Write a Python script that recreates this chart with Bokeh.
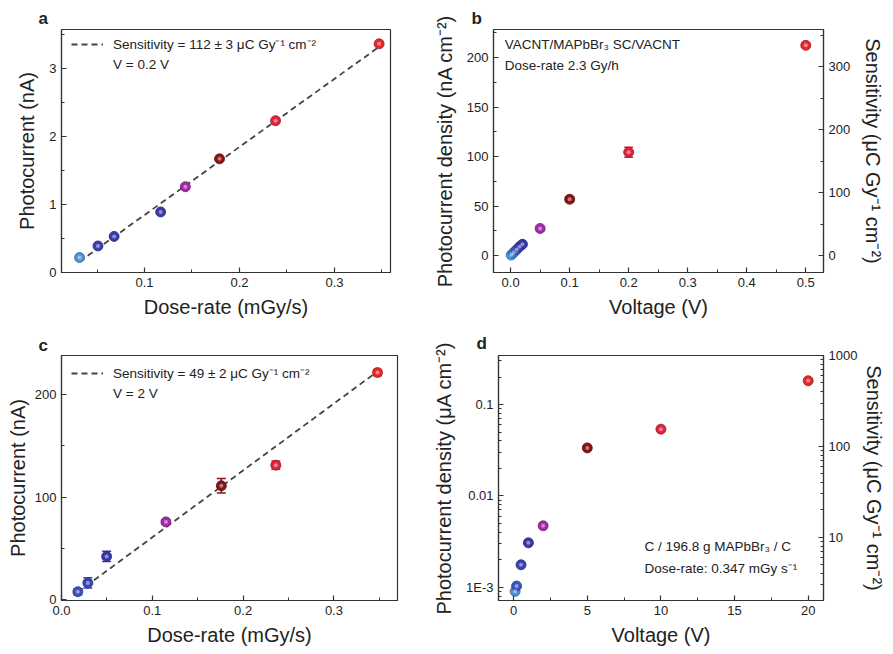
from bokeh.plotting import figure
from bokeh.layouts import column, row
from bokeh.models import (Range1d, LinearAxis, LogAxis, LogScale, FixedTicker, Whisker, TeeHead,
                          ColumnDataSource, Label, Legend, LegendItem, NumeralTickFormatter, Title)
from bokeh.embed import file_html
from bokeh.resources import INLINE

FONT = "Liberation Sans"

# ---------------- data ----------------
# panel a
a_dose = [0.0316, 0.051, 0.068, 0.117, 0.143, 0.179, 0.238, 0.347]
a_curr = [0.22, 0.39, 0.53, 0.89, 1.26, 1.67, 2.23, 3.36]
a_colors = ["#4a94dc", "#3b3fb0", "#3a3aa8", "#3b3aa5", "#a22aa8", "#8a1414", "#e0223c", "#e8262a"]
a_fit_slope, a_fit_icpt = 10.0, -0.155
a_fit_x = [0.0316, 0.347]

# panel b
b_volt = [0.001, 0.005, 0.01, 0.015, 0.02, 0.05, 0.1, 0.2, 0.5]
b_dens = [0.6, 3.0, 6.0, 9.0, 11.5, 27.5, 57.0, 104.5, 212.5]
b_err = [0.8, 0.8, 0.8, 1.0, 1.0, 2.0, 2.5, 5.0, 2.0]
b_colors = ["#4a94dc", "#4078d4", "#3a5ac4", "#3a45b8", "#3535a8", "#a22aa8", "#8a1414", "#e0223c", "#e8262a"]

# panel c
c_dose = [0.018, 0.029, 0.0497, 0.115, 0.176, 0.236, 0.348]
c_curr = [8.0, 16.6, 42.3, 75.9, 111.0, 131.0, 221.0]
c_err = [3.0, 5.0, 5.0, 2.0, 7.0, 4.0, 3.0]
c_colors = ["#3b50c0", "#3b45b5", "#3838a8", "#a22aa8", "#8a1414", "#e0223c", "#e8262a"]
c_fit_slope, c_fit_icpt = 650.0, -4.1
c_fit_x = [0.018, 0.348]

# panel d
d_volt = [0.1, 0.2, 0.5, 1, 2, 5, 10, 20]
d_dens = [9.0e-4, 1.03e-3, 1.76e-3, 3.06e-3, 4.7e-3, 0.0335, 0.0537, 0.182]
d_colors = ["#4a94dc", "#3b55c0", "#3b3fb0", "#3838a8", "#a22aa8", "#8a1414", "#e0223c", "#e8262a"]

a_xticks = [0.1, 0.2, 0.3]
a_yticks = [0, 1, 2, 3]
b_xticks = [0.0, 0.1, 0.2, 0.3, 0.4, 0.5]
b_yticks = [0, 50, 100, 150, 200]
b_rticks = [0, 100, 200, 300]
c_xticks = [0.0, 0.1, 0.2, 0.3]
c_yticks = [0, 100, 200]
d_xticks = [0, 5, 10, 15, 20]
d_yticks = [0.001, 0.01, 0.1]
d_ylabels = ["1E-3", "0.01", "0.1"]
d_rticks = [10, 100, 1000]
d_rlabels = ["10", "100", "1000"]


def style_axis(ax, label_standoff=6):
    ax.major_tick_in = 5
    ax.major_tick_out = 0
    ax.minor_tick_in = 3
    ax.minor_tick_out = 0
    ax.axis_line_color = "#333333"
    ax.axis_line_width = 1.2
    ax.major_tick_line_color = "#333333"
    ax.minor_tick_line_color = "#333333"
    ax.major_tick_line_width = 1.2
    ax.major_label_text_font = FONT
    ax.major_label_text_font_size = "13px"
    ax.major_label_text_color = "#222222"
    ax.major_label_standoff = 5
    ax.axis_label_text_font = FONT
    ax.axis_label_text_font_size = "20px"
    ax.axis_label_text_font_style = "normal"
    ax.axis_label_text_color = "#222222"
    ax.axis_label_standoff = label_standoff


def base_fig(w, h, bl, br, bt, bb, xr, yr, y_type="linear"):
    p = figure(width=w, height=h, x_range=xr, y_range=yr, y_axis_type=y_type,
               output_backend="svg", toolbar_location=None,
               min_border_left=bl, min_border_right=br, min_border_top=bt, min_border_bottom=bb)
    p.xgrid.visible = False
    p.ygrid.visible = False
    p.outline_line_color = "#333333"
    p.outline_line_width = 1.2
    p.background_fill_color = "white"
    p.border_fill_color = "white"
    return p


def darker(hexc, f=0.7):
    r, g, b = int(hexc[1:3], 16), int(hexc[3:5], 16), int(hexc[5:7], 16)
    return "#%02x%02x%02x" % (int(r * f), int(g * f), int(b * f))


def spheres(p, xs, ys, colors, size=10):
    src = ColumnDataSource(dict(x=xs, y=ys, c=colors, d=[darker(c) for c in colors]))
    p.scatter("x", "y", source=src, size=size, fill_color="c", line_color="d", line_width=0.8)
    p.scatter("x", "y", source=src, size=size * 0.4, fill_color="white", fill_alpha=0.45, line_color=None)


def errbars(p, xs, ys, errs, colors):
    src = ColumnDataSource(dict(x=xs, lo=[y - e for y, e in zip(ys, errs)],
                                hi=[y + e for y, e in zip(ys, errs)], c=colors))
    w = Whisker(base="x", lower="lo", upper="hi", source=src, dimension="height",
                line_color="c", line_width=1.5,
                lower_head=TeeHead(size=9, line_color="c", line_width=1.5),
                upper_head=TeeHead(size=9, line_color="c", line_width=1.5))
    p.add_layout(w)


def letter(p, txt, offset, standoff):
    p.add_layout(Title(text=txt, align="left", offset=offset, standoff=standoff,
                       text_font=FONT, text_font_size="17px", text_font_style="bold",
                       text_color="#222222"), "above")


def note(p, txt, x, y):
    p.add_layout(Label(x=x, y=y, text=txt, text_font=FONT, text_font_size="13.5px",
                       text_align="left", text_baseline="middle", text_color="#222222"))


def fit_legend(p, fit_r, txt1, txt2, loc):
    dummy = p.line([], [], line_alpha=0)
    leg = Legend(items=[LegendItem(label=txt1, renderers=[fit_r]),
                        LegendItem(label=txt2, renderers=[dummy])],
                 location=loc, border_line_color=None, background_fill_alpha=0,
                 margin=0, padding=5, spacing=4, glyph_width=32, glyph_height=14,
                 label_height=14, label_standoff=10, label_text_font=FONT,
                 label_text_font_size="13.5px", label_text_color="#222222")
    p.add_layout(leg)


# ---------------- panel a ----------------
pa = base_fig(430, 320, 61, 40, 29, 47, Range1d(0.0126, 0.359), Range1d(0, 3.57))
style_axis(pa.xaxis[0], 6)
style_axis(pa.yaxis[0], 8)
pa.xaxis.ticker = FixedTicker(ticks=a_xticks, minor_ticks=[0.05, 0.15, 0.25, 0.35])
pa.yaxis.ticker = FixedTicker(ticks=a_yticks, minor_ticks=[0.5, 1.5, 2.5, 3.5])
pa.xaxis.formatter = NumeralTickFormatter(format="0.0")
pa.xaxis.axis_label = "Dose-rate (mGy/s)"
pa.yaxis.axis_label = "Photocurrent (nA)"
fa = pa.line(a_fit_x, [a_fit_slope * x + a_fit_icpt for x in a_fit_x],
             line_dash="6 4", line_color="#444444", line_width=1.8)
spheres(pa, a_dose, a_curr, a_colors, size=10)
fit_legend(pa, fa, "Sensitivity = 112 ± 3 μC Gy⁻¹ cm⁻²", "V = 0.2 V", (10, 200))
letter(pa, "a", -23, 3)

# ---------------- panel b ----------------
pb = base_fig(463, 320, 59, 70, 28, 48, Range1d(-0.029, 0.53), Range1d(-17, 228.5))
pb.extra_y_ranges = {"sens": Range1d(-27, 359)}
style_axis(pb.xaxis[0], 6)
style_axis(pb.yaxis[0], 8)
pb.xaxis.ticker = FixedTicker(ticks=b_xticks, minor_ticks=[0.05, 0.15, 0.25, 0.35, 0.45])
pb.yaxis.ticker = FixedTicker(ticks=b_yticks, minor_ticks=[25, 75, 125, 175, 225])
pb.xaxis.formatter = NumeralTickFormatter(format="0.0")
pb.xaxis.axis_label = "Voltage (V)"
pb.yaxis.axis_label = "Photocurrent density (nA cm⁻²)"
rb = LinearAxis(y_range_name="sens", axis_label="Sensitivity (μC Gy⁻¹ cm⁻²)")
style_axis(rb, 9)
rb.ticker = FixedTicker(ticks=b_rticks, minor_ticks=[50, 150, 250, 350])
pb.add_layout(rb, "right")
errbars(pb, b_volt, b_dens, b_err, b_colors)
spheres(pb, b_volt, b_dens, b_colors, size=10)
note(pb, "VACNT/MAPbBr₃ SC/VACNT", -0.01, 213.8)
note(pb, "Dose-rate 2.3 Gy/h", -0.01, 191.7)
letter(pb, "b", -22, 3)

# ---------------- panel c ----------------
pc = base_fig(430, 334, 61, 33, 27, 54, Range1d(0, 0.37), Range1d(-0.5, 237.6))
style_axis(pc.xaxis[0], 6)
style_axis(pc.yaxis[0], 3)
pc.xaxis.ticker = FixedTicker(ticks=c_xticks, minor_ticks=[0.05, 0.15, 0.25, 0.35])
pc.yaxis.ticker = FixedTicker(ticks=c_yticks, minor_ticks=[50, 150])
pc.xaxis.formatter = NumeralTickFormatter(format="0.0")
pc.xaxis.axis_label = "Dose-rate (mGy/s)"
pc.yaxis.axis_label = "Photocurrent (nA)"
fc = pc.line(c_fit_x, [c_fit_slope * x + c_fit_icpt for x in c_fit_x],
             line_dash="6 4", line_color="#444444", line_width=1.8)
errbars(pc, c_dose, c_curr, c_err, c_colors)
spheres(pc, c_dose, c_curr, c_colors, size=10)
fit_legend(pc, fc, "Sensitivity = 49 ± 2 μC Gy⁻¹ cm⁻²", "V = 2 V", (10, 199))
letter(pc, "c", -23, 2)

# ---------------- panel d ----------------
pd_ = base_fig(463, 334, 59, 70, 35, 54, Range1d(-1.03, 21.04), Range1d(7.15e-4, 0.344), y_type="log")
pd_.extra_y_ranges = {"sens": Range1d(2.01, 1000)}
pd_.extra_y_scales = {"sens": LogScale()}
style_axis(pd_.xaxis[0], 6)
style_axis(pd_.yaxis[0], 8)
pd_.xaxis.ticker = FixedTicker(ticks=d_xticks, minor_ticks=[2.5, 7.5, 12.5, 17.5])
lminor = [k * 10.0 ** e for e in (-4, -3, -2, -1) for k in range(2, 10)]
pd_.yaxis.ticker = FixedTicker(ticks=d_yticks, minor_ticks=lminor)
pd_.yaxis.major_label_overrides = dict(zip(d_yticks, d_ylabels))
pd_.xaxis.axis_label = "Voltage (V)"
pd_.yaxis.axis_label = "Photocurrent density (μA cm⁻²)"
rd = LogAxis(y_range_name="sens", axis_label="Sensitivity (μC Gy⁻¹ cm⁻²)")
style_axis(rd, 3)
rminor = [k * 10.0 ** e for e in (0, 1, 2) for k in range(2, 10)]
rd.ticker = FixedTicker(ticks=d_rticks, minor_ticks=rminor)
rd.major_label_overrides = dict(zip(d_rticks, d_rlabels))
pd_.add_layout(rd, "right")
spheres(pd_, d_volt, d_dens, d_colors, size=10)
note(pd_, "C / 196.8 g MAPbBr₃ / C", 8.88, 2.81e-3)
note(pd_, "Dose-rate: 0.347 mGy s⁻¹", 8.88, 1.60e-3)
letter(pd_, "d", -22, 6)

layout = column(row(pa, pb), row(pc, pd_))
open("out.html", "w").write(file_html(layout, INLINE))
